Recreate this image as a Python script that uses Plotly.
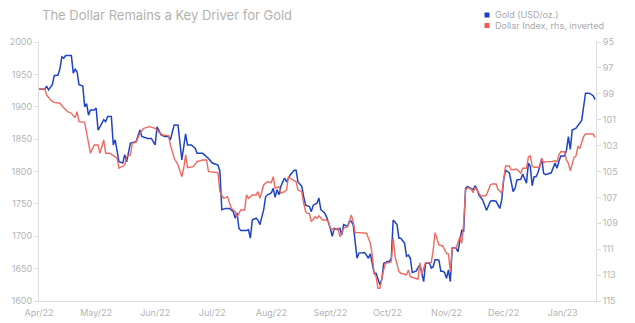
import plotly.graph_objects as go

gold_dates = [
    "2022-04-01", "2022-04-04", "2022-04-05", "2022-04-06", "2022-04-08", "2022-04-09",
    "2022-04-11", "2022-04-12", "2022-04-13", "2022-04-14", "2022-04-15", "2022-04-18",
    "2022-04-19", "2022-04-20", "2022-04-21", "2022-04-22", "2022-04-24", "2022-04-25",
    "2022-04-26", "2022-04-27", "2022-04-28", "2022-04-30", "2022-05-01", "2022-05-02",
    "2022-05-03", "2022-05-05", "2022-05-06", "2022-05-07", "2022-05-09", "2022-05-10",
    "2022-05-11", "2022-05-12", "2022-05-13", "2022-05-15", "2022-05-16", "2022-05-17",
    "2022-05-19", "2022-05-22", "2022-05-24", "2022-05-25", "2022-05-28", "2022-05-30",
    "2022-06-01", "2022-06-02", "2022-06-04", "2022-06-06", "2022-06-08", "2022-06-09",
    "2022-06-11", "2022-06-13", "2022-06-15", "2022-06-17", "2022-06-18", "2022-06-20",
    "2022-06-22", "2022-06-23", "2022-06-26", "2022-06-29", "2022-07-01", "2022-07-04",
    "2022-07-05", "2022-07-06", "2022-07-08", "2022-07-10", "2022-07-12", "2022-07-13",
    "2022-07-14", "2022-07-15", "2022-07-16", "2022-07-19", "2022-07-20", "2022-07-21",
    "2022-07-22", "2022-07-24", "2022-07-25", "2022-07-26", "2022-07-28", "2022-07-29",
    "2022-07-30", "2022-08-01", "2022-08-02", "2022-08-03", "2022-08-04", "2022-08-05",
    "2022-08-06", "2022-08-07", "2022-08-08", "2022-08-09", "2022-08-11", "2022-08-13",
    "2022-08-14", "2022-08-15", "2022-08-17", "2022-08-18", "2022-08-19", "2022-08-21",
    "2022-08-22", "2022-08-23", "2022-08-25", "2022-08-26", "2022-08-27", "2022-08-29",
    "2022-08-30", "2022-09-01", "2022-09-02", "2022-09-03", "2022-09-05", "2022-09-06",
    "2022-09-07", "2022-09-08", "2022-09-10", "2022-09-11", "2022-09-12", "2022-09-13",
    "2022-09-14", "2022-09-15", "2022-09-16", "2022-09-18", "2022-09-19", "2022-09-21",
    "2022-09-22", "2022-09-23", "2022-09-24", "2022-09-25", "2022-09-27", "2022-09-28",
    "2022-09-29", "2022-10-01", "2022-10-02", "2022-10-03", "2022-10-04", "2022-10-06",
    "2022-10-07", "2022-10-08", "2022-10-10", "2022-10-11", "2022-10-12", "2022-10-13",
    "2022-10-14", "2022-10-16", "2022-10-18", "2022-10-19", "2022-10-20", "2022-10-21",
    "2022-10-23", "2022-10-24", "2022-10-25", "2022-10-26", "2022-10-28", "2022-10-29",
    "2022-10-30", "2022-10-31", "2022-11-01", "2022-11-02", "2022-11-03", "2022-11-04",
    "2022-11-06", "2022-11-07", "2022-11-08", "2022-11-09", "2022-11-10", "2022-11-11",
    "2022-11-12", "2022-11-14", "2022-11-15", "2022-11-16", "2022-11-17", "2022-11-18",
    "2022-11-20", "2022-11-22", "2022-11-23", "2022-11-24", "2022-11-25", "2022-11-27",
    "2022-11-29", "2022-11-30", "2022-12-01", "2022-12-02", "2022-12-03", "2022-12-04",
    "2022-12-06", "2022-12-07", "2022-12-08", "2022-12-10", "2022-12-11", "2022-12-13",
    "2022-12-14", "2022-12-15", "2022-12-16", "2022-12-17", "2022-12-18", "2022-12-19",
    "2022-12-21", "2022-12-22", "2022-12-23", "2022-12-25", "2022-12-26", "2022-12-28",
    "2022-12-29", "2022-12-30", "2022-12-31", "2023-01-01", "2023-01-02", "2023-01-03",
    "2023-01-04", "2023-01-05", "2023-01-06", "2023-01-08", "2023-01-10", "2023-01-11",
    "2023-01-12", "2023-01-13", "2023-01-15", "2023-01-17", "2023-01-18",
]
gold_values = [
    1927, 1927, 1932, 1926, 1934, 1948,
    1949, 1959, 1977, 1975, 1979, 1979,
    1952, 1958, 1954, 1934, 1932, 1900,
    1905, 1887, 1895, 1895, 1898, 1864,
    1869, 1880, 1877, 1885, 1885, 1841,
    1849, 1831, 1815, 1813, 1826, 1815,
    1844, 1846, 1864, 1854, 1851, 1851,
    1841, 1869, 1857, 1854, 1854, 1849,
    1872, 1872, 1818, 1858, 1841, 1841,
    1836, 1828, 1828, 1820, 1813, 1810,
    1800, 1741, 1743, 1743, 1738, 1728,
    1736, 1712, 1709, 1709, 1710, 1697,
    1725, 1728, 1725, 1718, 1741, 1761,
    1764, 1767, 1774, 1760, 1772, 1764,
    1777, 1784, 1790, 1784, 1795, 1802,
    1802, 1784, 1777, 1761, 1748, 1746,
    1738, 1748, 1751, 1759, 1741, 1736,
    1730, 1712, 1700, 1712, 1710, 1712,
    1702, 1718, 1715, 1723, 1723, 1718,
    1689, 1666, 1674, 1674, 1675, 1666,
    1673, 1658, 1643, 1643, 1625, 1633,
    1658, 1661, 1661, 1666, 1725, 1718,
    1697, 1697, 1689, 1669, 1671, 1666,
    1644, 1646, 1656, 1643, 1630, 1658,
    1659, 1651, 1653, 1664, 1663, 1646,
    1646, 1644, 1635, 1648, 1630, 1682,
    1682, 1676, 1697, 1710, 1707, 1774,
    1777, 1774, 1772, 1778, 1773, 1764,
    1756, 1740, 1746, 1754, 1755, 1754,
    1743, 1756, 1787, 1802, 1800, 1798,
    1769, 1774, 1787, 1788, 1796, 1782,
    1813, 1808, 1778, 1792, 1792, 1798,
    1820, 1797, 1795, 1797, 1798, 1813,
    1805, 1815, 1824, 1824, 1824, 1833,
    1854, 1834, 1864, 1867, 1875, 1879,
    1900, 1921, 1921, 1917, 1911,
]

dxy_dates = [
    "2022-04-01", "2022-04-04", "2022-04-05", "2022-04-07", "2022-04-09", "2022-04-12",
    "2022-04-13", "2022-04-14", "2022-04-16", "2022-04-18", "2022-04-20", "2022-04-21",
    "2022-04-22", "2022-04-25", "2022-04-26", "2022-04-27", "2022-04-28", "2022-04-30",
    "2022-05-02", "2022-05-03", "2022-05-05", "2022-05-06", "2022-05-08", "2022-05-10",
    "2022-05-12", "2022-05-13", "2022-05-15", "2022-05-16", "2022-05-17", "2022-05-19",
    "2022-05-20", "2022-05-22", "2022-05-24", "2022-05-26", "2022-05-29", "2022-06-01",
    "2022-06-03", "2022-06-05", "2022-06-08", "2022-06-09", "2022-06-11", "2022-06-13",
    "2022-06-15", "2022-06-16", "2022-06-17", "2022-06-18", "2022-06-21", "2022-06-23",
    "2022-06-26", "2022-06-28", "2022-06-29", "2022-07-02", "2022-07-04", "2022-07-05",
    "2022-07-07", "2022-07-09", "2022-07-11", "2022-07-13", "2022-07-14", "2022-07-16",
    "2022-07-18", "2022-07-19", "2022-07-20", "2022-07-22", "2022-07-24", "2022-07-25",
    "2022-07-26", "2022-07-27", "2022-07-28", "2022-07-30", "2022-08-01", "2022-08-02",
    "2022-08-03", "2022-08-05", "2022-08-06", "2022-08-08", "2022-08-09", "2022-08-10",
    "2022-08-11", "2022-08-13", "2022-08-14", "2022-08-15", "2022-08-17", "2022-08-18",
    "2022-08-19", "2022-08-20", "2022-08-21", "2022-08-22", "2022-08-24", "2022-08-25",
    "2022-08-26", "2022-08-28", "2022-08-30", "2022-08-31", "2022-09-01", "2022-09-03",
    "2022-09-05", "2022-09-06", "2022-09-07", "2022-09-08", "2022-09-10", "2022-09-11",
    "2022-09-12", "2022-09-13", "2022-09-14", "2022-09-16", "2022-09-18", "2022-09-20",
    "2022-09-22", "2022-09-23", "2022-09-24", "2022-09-25", "2022-09-26", "2022-09-27",
    "2022-09-29", "2022-09-30", "2022-10-02", "2022-10-03", "2022-10-04", "2022-10-05",
    "2022-10-07", "2022-10-08", "2022-10-11", "2022-10-12", "2022-10-13", "2022-10-15",
    "2022-10-17", "2022-10-18", "2022-10-19", "2022-10-21", "2022-10-24", "2022-10-25",
    "2022-10-26", "2022-10-28", "2022-10-30", "2022-11-01", "2022-11-02", "2022-11-03",
    "2022-11-04", "2022-11-06", "2022-11-08", "2022-11-09", "2022-11-10", "2022-11-11",
    "2022-11-12", "2022-11-14", "2022-11-15", "2022-11-16", "2022-11-18", "2022-11-19",
    "2022-11-21", "2022-11-22", "2022-11-24", "2022-11-25", "2022-11-27", "2022-11-28",
    "2022-11-30", "2022-12-01", "2022-12-02", "2022-12-04", "2022-12-05", "2022-12-07",
    "2022-12-08", "2022-12-10", "2022-12-11", "2022-12-13", "2022-12-14", "2022-12-15",
    "2022-12-16", "2022-12-17", "2022-12-20", "2022-12-21", "2022-12-22", "2022-12-23",
    "2022-12-26", "2022-12-28", "2022-12-29", "2022-12-30", "2022-12-31", "2023-01-02",
    "2023-01-03", "2023-01-04", "2023-01-05", "2023-01-07", "2023-01-08", "2023-01-09",
    "2023-01-10", "2023-01-12", "2023-01-13", "2023-01-17", "2023-01-18",
]
dxy_values = [
    98.63, 98.63, 99.09, 99.48, 99.66, 99.73,
    99.92, 100.07, 100.38, 100.50, 100.84, 100.38,
    101.15, 101.20, 101.92, 102.70, 103.59, 102.95,
    102.95, 103.59, 102.57, 103.59, 103.59, 103.78,
    103.98, 104.75, 104.55, 104.50, 103.86, 103.72,
    102.82, 102.74, 102.05, 101.66, 101.54, 101.66,
    101.97, 102.18, 102.23, 102.95, 103.98, 104.50,
    105.40, 104.75, 103.72, 104.70, 104.63, 104.24,
    104.11, 104.11, 105.01, 105.09, 105.09, 106.56,
    107.07, 106.94, 107.84, 108.10, 108.49, 107.97,
    107.97, 106.81, 107.07, 106.81, 106.81, 106.56,
    107.07, 106.56, 106.04, 105.78, 105.86, 105.40,
    106.29, 106.17, 106.68, 106.56, 106.43, 105.40,
    105.53, 105.71, 105.78, 106.43, 106.56, 107.46,
    108.10, 108.23, 108.23, 108.87, 108.49, 108.61,
    108.43, 108.74, 108.74, 108.87, 109.38, 109.52,
    109.38, 110.03, 109.77, 109.38, 109.26, 108.87,
    108.36, 108.87, 109.72, 109.72, 109.77, 109.77,
    110.55, 111.45, 112.86, 113.12, 114.02, 114.02,
    112.60, 112.08, 112.04, 111.96, 110.15, 111.57,
    112.73, 112.86, 112.99, 112.60, 113.12, 113.24,
    113.32, 112.04, 112.91, 112.04, 112.04, 111.06,
    109.72, 110.67, 110.75, 111.31, 111.37, 112.73,
    110.93, 110.93, 110.03, 110.55, 109.00, 106.43,
    106.22, 106.37, 106.63, 106.22, 106.73, 106.89,
    106.89, 106.81, 106.04, 105.96, 105.96, 106.37,
    106.68, 105.65, 104.57, 104.57, 104.88, 104.83,
    104.83, 105.14, 104.75, 104.75, 103.86, 103.80,
    104.57, 104.67, 104.67, 103.98, 104.32, 104.24,
    104.24, 104.17, 104.24, 103.72, 103.47, 103.47,
    104.11, 104.37, 104.94, 103.91, 103.80, 103.08,
    103.21, 102.31, 102.10, 102.10, 102.36,
]

month_ticks = ["2022-04-01", "2022-05-01", "2022-06-01", "2022-07-01", "2022-08-01",
               "2022-09-01", "2022-10-01", "2022-11-01", "2022-12-01", "2023-01-01"]
month_labels = ["Apr/22", "May/22", "Jun/22", "Jul/22", "Aug/22",
                "Sept/22", "Oct/22", "Nov/22", "Dec/22", "Jan/23"]
gold_ticks = [1600, 1650, 1700, 1750, 1800, 1850, 1900, 1950, 2000]
dxy_ticks = [95, 97, 99, 101, 103, 105, 107, 109, 111, 113, 115]

title_text = "The Dollar Remains a Key Driver for Gold"
gold_name = "Gold (USD/oz.)"
dxy_name = "Dollar Index, rhs, inverted"

BLUE = "#1f43c4"
RED = "#ee6a5f"
FONT = "Inter, Roboto, sans-serif"
TICK_COLOR = "#b4b4b4"
AXIS_COLOR = "#dedede"

fig = go.Figure()
fig.add_trace(go.Scatter(x=dxy_dates, y=dxy_values, mode="lines", yaxis="y2",
                         line=dict(color=RED, width=1.4), showlegend=False,
                         name=dxy_name))
fig.add_trace(go.Scatter(x=gold_dates, y=gold_values, mode="lines",
                         line=dict(color=BLUE, width=1.5), showlegend=False,
                         name=gold_name))

fig.update_layout(
    width=635, height=323,
    margin=dict(l=39, r=39, t=42, b=22, autoexpand=False),
    paper_bgcolor="white", plot_bgcolor="white",
    font=dict(family=FONT, color=TICK_COLOR, size=9),
    showlegend=False,
    title=dict(text=title_text, x=42 / 635, xanchor="left", y=1 - 15 / 323,
               yanchor="middle", font=dict(family=FONT, size=13, color="#b2b2b2")),
    xaxis=dict(type="date", range=["2022-04-01", "2023-01-18 12:00"],
               tickmode="array", tickvals=month_ticks, ticktext=month_labels,
               showgrid=False, zeroline=False, showline=True, linecolor=AXIS_COLOR,
               linewidth=1, ticks="outside", ticklen=3, tickcolor="rgba(0,0,0,0)",
               automargin=False, tickfont=dict(size=9, color=TICK_COLOR)),
    yaxis=dict(range=[1600, 2000], tickmode="array", tickvals=gold_ticks,
               showgrid=False, zeroline=False, showline=True, linecolor=AXIS_COLOR,
               linewidth=1, ticks="outside", ticklen=4, tickcolor=AXIS_COLOR,
               automargin=False, tickfont=dict(size=9, color=TICK_COLOR)),
    yaxis2=dict(range=[115, 95], tickmode="array", tickvals=dxy_ticks,
                overlaying="y", side="right", anchor="x",
                showgrid=False, zeroline=False, showline=True, linecolor=AXIS_COLOR,
                linewidth=1, ticks="outside", ticklen=4, tickcolor=AXIS_COLOR,
                automargin=False, tickfont=dict(size=9, color=TICK_COLOR)),
)

# legend drawn as small squares + labels above the plot
legend_items = [(gold_name, "#1c3fc6", 15), (dxy_name, "#f05a4f", 25.5)]
for label, color, ypx in legend_items:
    fig.add_shape(type="rect", xref="paper", yref="paper",
                  x0=(484.5 - 39) / 557, x1=(489.5 - 39) / 557,
                  y0=(301 - ypx - 2.5) / 259, y1=(301 - ypx + 2.5) / 259,
                  fillcolor=color, line=dict(width=0))
    fig.add_annotation(text=label, xref="paper", yref="paper",
                       x=(493 - 39) / 557, y=(301 - ypx) / 259,
                       xanchor="left", yanchor="middle", showarrow=False,
                       font=dict(family=FONT, size=9, color="#a9a9a9"))

fig.write_html("out.html")
